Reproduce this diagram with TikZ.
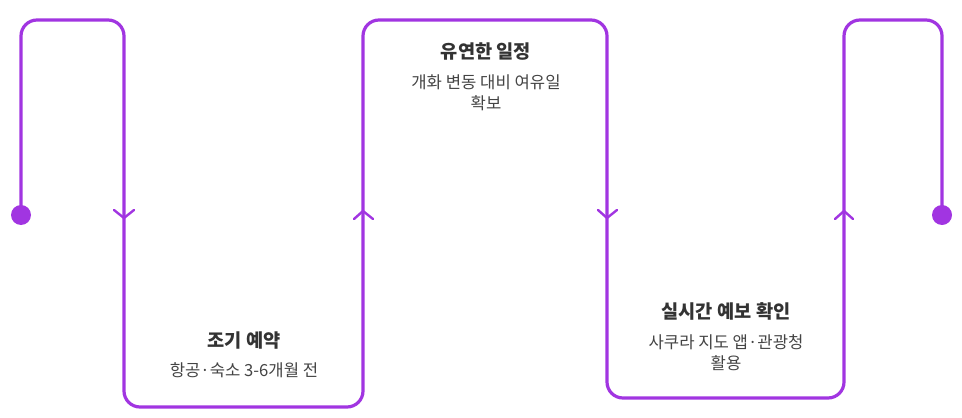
\documentclass[tikz,border=0pt]{standalone}
\usepackage{fontspec}
\newfontfamily\krfont{Noto Sans CJK KR}
\usepackage{tikz}

\definecolor{flowpurple}{RGB}{161,53,225}
\definecolor{titlegray}{RGB}{51,51,51}
\definecolor{subgray}{RGB}{68,68,68}

\begin{document}
\begin{tikzpicture}[
  x=0.75pt, y=-0.75pt,
  flow/.style={draw=flowpurple, line width=2.4pt, rounded corners=12pt},
  chev/.style={draw=flowpurple, line width=1.8pt, line cap=round, line join=miter},
  dot/.style={circle, fill=flowpurple, inner sep=0pt, minimum size=15pt},
  ttl/.style={font=\krfont\bfseries\fontsize{14}{16}\selectfont, text=titlegray, inner sep=0pt},
  sub/.style={font=\krfont\fontsize{12.5}{15.75}\selectfont, text=subgray, align=center, inner sep=0pt},
]
\useasboundingbox (0,0) rectangle (962,417);

% end points
\node[dot] (start) at (21,215) {};
\node[dot] (finish) at (942,215) {};

% serpentine line
\draw[flow] (start.center) |- (124,20) |- (363,407) |- (607,20) |- (844,398) |- (942,20) -- (finish.center);

% direction marks
\draw[chev] (114,210) -- (124,218) -- (134,210);
\draw[chev] (354,219) -- (363,211) -- (373,219);
\draw[chev] (598,210) -- (607,218) -- (617,210);
\draw[chev] (835,219) -- (844,211) -- (853,219);

% step 1
\node[ttl] (early) at (244,341) {조기 예약};
\node[sub] (earlysub) at (244,370) {항공·숙소 3-6개월 전};

% step 2
\node[ttl] (flex) at (486,52) {유연한 일정};
\node[sub] (flexsub) at (486,92.5) {개화 변동 대비 여유일\\확보};

% step 3
\node[ttl] (live) at (726,311) {실시간 예보 확인};
\node[sub] (livesub) at (726,353) {사쿠라 지도 앱·관광청\\활용};
\end{tikzpicture}
\end{document}
